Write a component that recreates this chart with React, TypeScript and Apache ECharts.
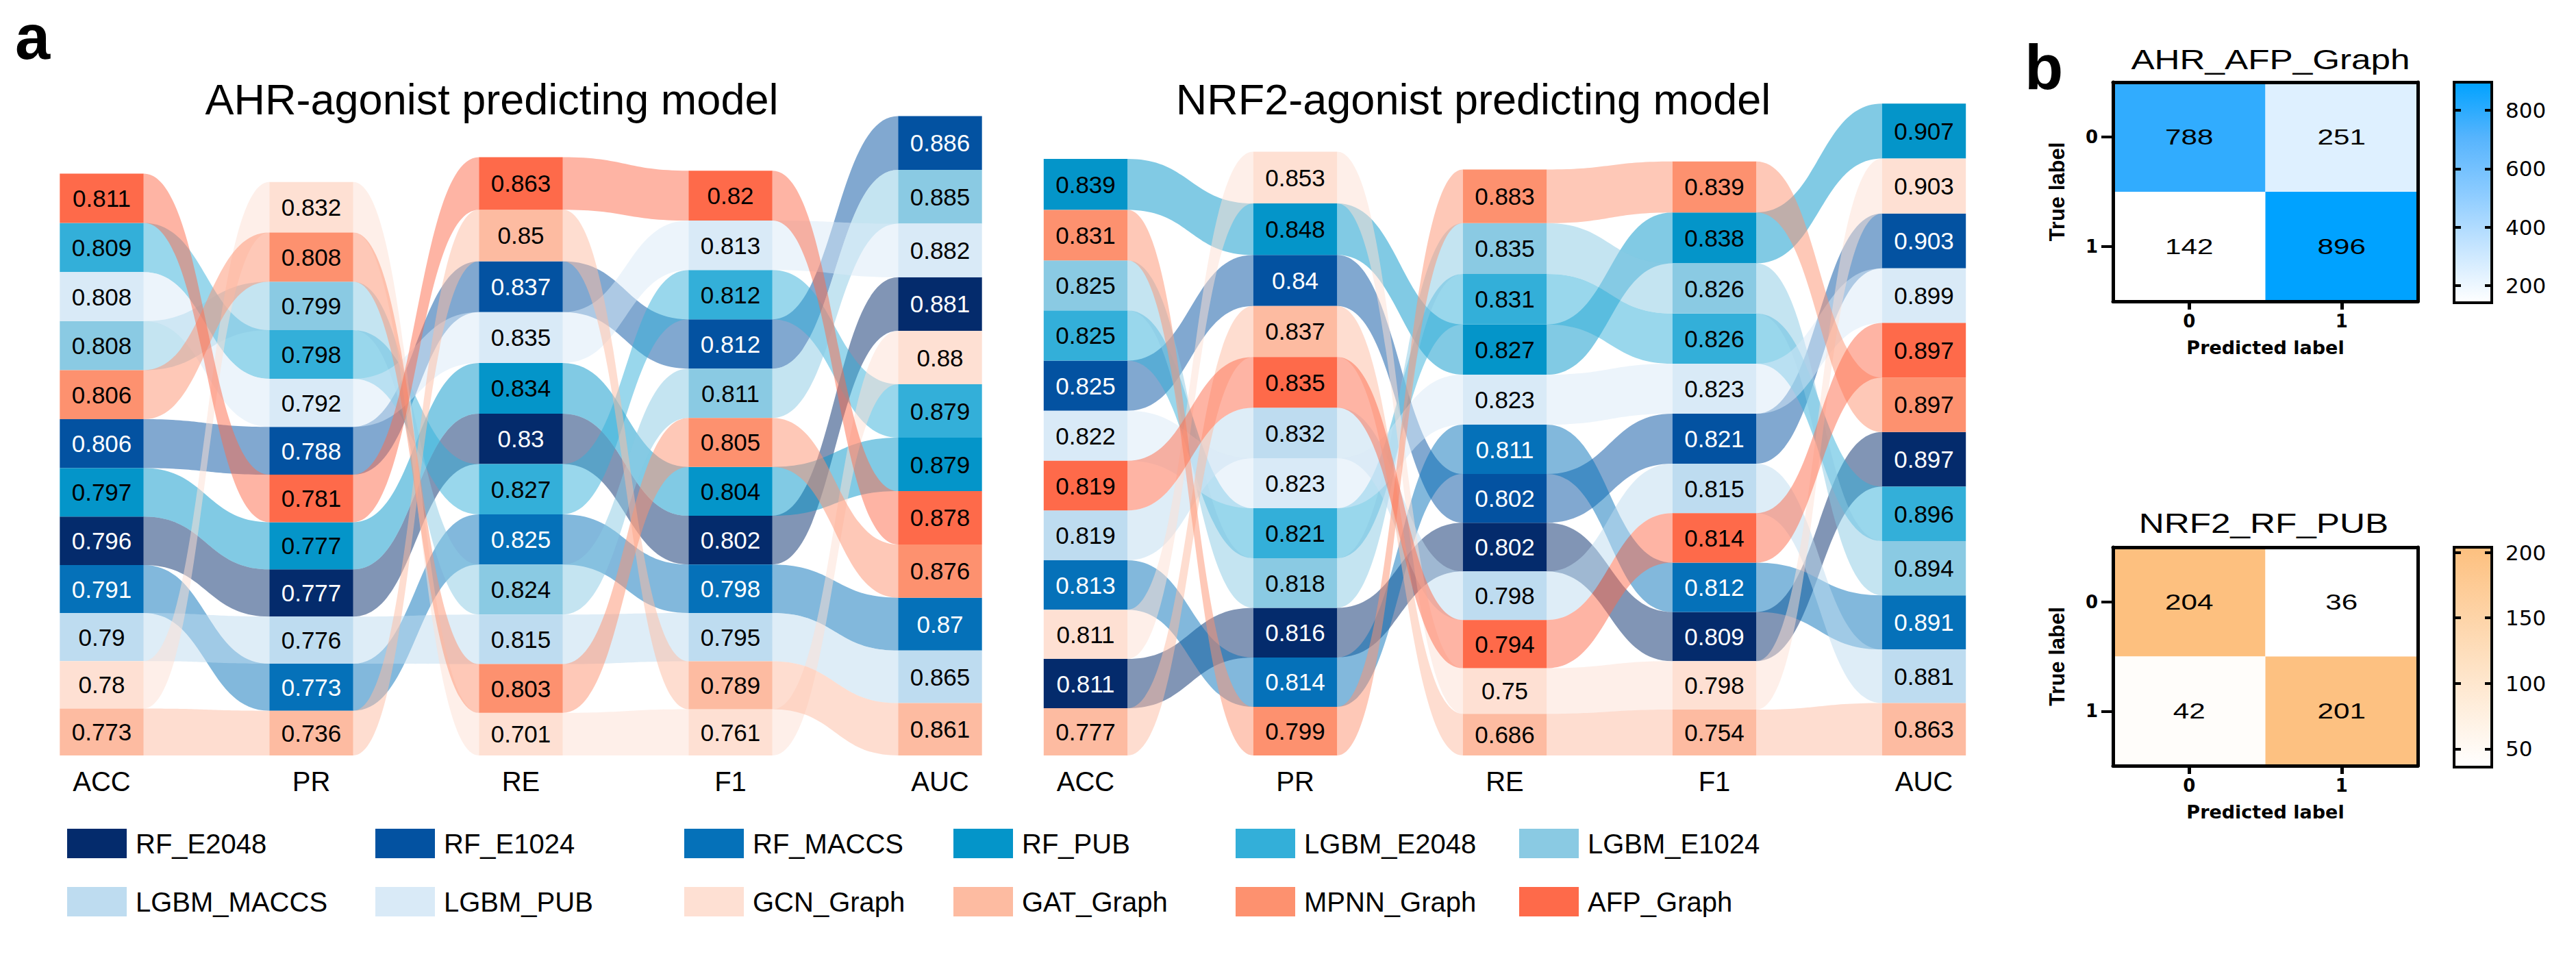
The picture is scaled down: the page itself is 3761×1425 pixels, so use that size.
import React, { useEffect, useRef } from 'react';
import * as echarts from 'echarts';

// ---------------- data ----------------
const MODELS = ['RF_E2048', 'RF_E1024', 'RF_MACCS', 'RF_PUB', 'LGBM_E2048', 'LGBM_E1024', 'LGBM_MACCS', 'LGBM_PUB', 'GCN_Graph', 'GAT_Graph', 'MPNN_Graph', 'AFP_Graph'];
const MODEL_COLORS = ['#042b6c', '#0352a1', '#0571b9', '#0495c9', '#33afd9', '#8acae3', '#bedcf0', '#d9eaf7', '#fee0d3', '#fdbba1', '#fd916f', '#fe6a4a'];
const WHITE_TEXT_MODELS = ['RF_E2048', 'RF_E1024', 'RF_MACCS'];
const METRICS = ['ACC', 'PR', 'RE', 'F1', 'AUC'];

// values listed in MODELS order
const AHR_ACC = [0.796, 0.806, 0.791, 0.797, 0.809, 0.808, 0.79, 0.808, 0.78, 0.773, 0.806, 0.811];
const AHR_PR = [0.777, 0.788, 0.773, 0.777, 0.798, 0.799, 0.776, 0.792, 0.832, 0.736, 0.808, 0.781];
const AHR_RE = [0.83, 0.837, 0.825, 0.834, 0.827, 0.824, 0.815, 0.835, 0.701, 0.85, 0.803, 0.863];
const AHR_F1 = [0.802, 0.812, 0.798, 0.804, 0.812, 0.811, 0.795, 0.813, 0.761, 0.789, 0.805, 0.82];
const AHR_AUC = [0.881, 0.886, 0.87, 0.879, 0.879, 0.885, 0.865, 0.882, 0.88, 0.861, 0.876, 0.878];

const NRF2_ACC = [0.811, 0.825, 0.813, 0.839, 0.825, 0.825, 0.819, 0.822, 0.811, 0.777, 0.831, 0.819];
const NRF2_PR = [0.816, 0.84, 0.814, 0.848, 0.821, 0.818, 0.832, 0.823, 0.853, 0.837, 0.799, 0.835];
const NRF2_RE = [0.802, 0.802, 0.811, 0.827, 0.831, 0.835, 0.798, 0.823, 0.75, 0.686, 0.883, 0.794];
const NRF2_F1 = [0.809, 0.821, 0.812, 0.838, 0.826, 0.826, 0.815, 0.823, 0.798, 0.754, 0.839, 0.814];
const NRF2_AUC = [0.897, 0.903, 0.891, 0.907, 0.896, 0.894, 0.881, 0.899, 0.903, 0.863, 0.897, 0.897];

const PANEL_TITLES = ['AHR-agonist predicting model', 'NRF2-agonist predicting model'];

const CM_CLASSES = ['0', '1'];
const AHR_CM_TITLE = 'AHR_AFP_Graph';
const AHR_CM = [[788, 251], [142, 896]];
const AHR_CM_TICKS = [200, 400, 600, 800];
const AHR_CM_COLORS = ['#ffffff', '#c6e5ff', '#8bcbff', '#56b4fd', '#00a2ff'];
const NRF2_CM_TITLE = 'NRF2_RF_PUB';
const NRF2_CM = [[204, 36], [42, 201]];
const NRF2_CM_TICKS = [50, 100, 150, 200];
const NRF2_CM_COLORS = ['#ffffff', '#fdc07f'];

// ---------------- style / layout ----------------
const FONT = "'Liberation Sans', Arial, Helvetica, sans-serif";
const WIDE = "'DejaVu Sans', sans-serif";
const CELL_HALF = 0.2;
const RIBBON_OPACITY = 0.5;
const LEGEND_LEFTS = [98, 548, 999, 1392, 1804, 2218];

function layoutColumns(cols: number[][]) {
  return cols.map((col) => {
    const order = MODELS.map((_, m) => m).sort((a, b) => (col[b] - col[a]) || (b - a));
    const res: { bot: number; top: number }[] = new Array(MODELS.length);
    let acc = 0;
    for (let i = order.length - 1; i >= 0; i--) {
      const m = order[i];
      res[m] = { bot: acc, top: acc + col[m] };
      acc += col[m];
    }
    return res;
  });
}

function ribbonRenderer(color: string) {
  return (params: any, api: any) => {
    const k = api.value(0);
    const a1 = api.coord([k + CELL_HALF, api.value(1)]);
    const a2 = api.coord([k + CELL_HALF, api.value(2)]);
    const b1 = api.coord([k + 1 - CELL_HALF, api.value(3)]);
    const b2 = api.coord([k + 1 - CELL_HALF, api.value(4)]);
    const xm = (a1[0] + b1[0]) / 2;
    const d = `M${a1[0]},${a1[1]} C${xm},${a1[1]} ${xm},${b1[1]} ${b1[0]},${b1[1]} L${b2[0]},${b2[1]} C${xm},${b2[1]} ${xm},${a2[1]} ${a2[0]},${a2[1]} Z`;
    return { type: 'path', shape: { pathData: d }, style: { fill: color, opacity: RIBBON_OPACITY } };
  };
}

function cellRenderer(params: any, api: any) {
  const k = api.value(0);
  const p1 = api.coord([k - CELL_HALF, api.value(2)]);
  const p2 = api.coord([k + CELL_HALF, api.value(1)]);
  const m = api.value(4);
  const val = api.value(3);
  const white = WHITE_TEXT_MODELS.indexOf(MODELS[m]) >= 0;
  return {
    type: 'group',
    children: [
      { type: 'rect', shape: { x: p1[0], y: p1[1], width: p2[0] - p1[0], height: p2[1] - p1[1] }, style: { fill: MODEL_COLORS[m] } },
      {
        type: 'text', x: (p1[0] + p2[0]) / 2, y: (p1[1] + p2[1]) / 2,
        style: { text: String(val), fill: white ? '#ffffff' : '#000000', font: `35px ${FONT}`, align: 'center', verticalAlign: 'middle' },
      },
    ],
  };
}

function cmRenderer(params: any, api: any) {
  const c = api.coord([api.value(0), api.value(1)]);
  const s = api.size([1, 1]);
  return {
    type: 'group',
    children: [
      { type: 'rect', shape: { x: c[0] - s[0] / 2, y: c[1] - s[1] / 2, width: s[0], height: s[1] }, style: { fill: api.visual('color') } },
      { type: 'text', x: c[0], y: c[1], scaleX: 1.32, style: { text: String(api.value(2)), fill: '#000', font: `32px ${FONT}`, align: 'center', verticalAlign: 'middle' } },
    ],
  };
}

function colorbarRenderer(colors: string[]) {
  return (params: any, api: any) => {
    const p1 = api.coord([0, api.value(2)]);
    const p2 = api.coord([1, api.value(1)]);
    return {
      type: 'rect',
      shape: { x: p1[0], y: p1[1], width: p2[0] - p1[0], height: p2[1] - p1[1] },
      style: {
        fill: new echarts.graphic.LinearGradient(0, 1, 0, 0, colors.map((c, i) => ({ offset: i / (colors.length - 1), color: c }))),
        stroke: '#000', lineWidth: 4,
      },
    };
  };
}

function buildOption() {
  const panelCols = [
    [AHR_ACC, AHR_PR, AHR_RE, AHR_F1, AHR_AUC],
    [NRF2_ACC, NRF2_PR, NRF2_RE, NRF2_F1, NRF2_AUC],
  ];
  const panelLefts = [10.8, 1447.3];

  const grid: any[] = [];
  const xAxis: any[] = [];
  const yAxis: any[] = [];
  const series: any[] = [];

  // alluvial grids 0,1
  panelCols.forEach((cols, pi) => {
    grid.push({ left: panelLefts[pi], top: 127, width: 1499.4, height: 976 });
    xAxis.push({
      gridIndex: pi, type: 'value', min: -0.45, max: 4.45,
      axisLine: { show: false }, axisTick: { show: false }, splitLine: { show: false },
      axisLabel: { customValues: [0, 1, 2, 3, 4], formatter: (v: number) => METRICS[Math.round(v)], fontSize: 40, fontFamily: FONT, color: '#000', margin: 18 },
    });
    yAxis.push({ gridIndex: pi, type: 'value', min: 0, max: 11, show: false, splitLine: { show: false } });
  });

  // ribbons
  const layouts = panelCols.map((cols) => layoutColumns(cols));
  layouts.forEach((pos, pi) => {
    MODELS.forEach((name, m) => {
      const data: number[][] = [];
      for (let k = 0; k < METRICS.length - 1; k++) {
        data.push([k, pos[k][m].top, pos[k][m].bot, pos[k + 1][m].top, pos[k + 1][m].bot]);
      }
      series.push({
        type: 'custom', name, xAxisIndex: pi, yAxisIndex: pi, z: 2,
        itemStyle: { color: MODEL_COLORS[m] },
        renderItem: ribbonRenderer(MODEL_COLORS[m]), data,
      });
    });
  });
  // cells
  layouts.forEach((pos, pi) => {
    const data: number[][] = [];
    pos.forEach((col, k) => {
      MODELS.forEach((_, m) => {
        data.push([k, col[m].bot, col[m].top, panelCols[pi][k][m], m]);
      });
    });
    series.push({ type: 'custom', name: 'cells' + pi, xAxisIndex: pi, yAxisIndex: pi, z: 3, renderItem: cellRenderer, data });
  });

  // confusion matrices: grids 2,3 ; colorbars grids 4,5
  const cms: any[] = [
    { title: AHR_CM_TITLE, cm: AHR_CM, ticks: AHR_CM_TICKS, colors: AHR_CM_COLORS, top: 120, height: 320 },
    { title: NRF2_CM_TITLE, cm: NRF2_CM, ticks: NRF2_CM_TICKS, colors: NRF2_CM_COLORS, top: 799, height: 319 },
  ];
  const visualMap: any[] = [];
  cms.forEach((c) => {
    const gi = grid.length;
    grid.push({ left: 3085, top: c.top, width: 445, height: c.height });
    const lineStyle = { color: '#000', width: 5 };
    const xb = xAxis.length;
    xAxis.push({
      gridIndex: gi, type: 'category', data: CM_CLASSES, position: 'bottom', z: 10,
      axisLine: { show: true, lineStyle }, axisTick: { show: true, alignWithLabel: true, length: 12, lineStyle: { color: '#000', width: 5 } },
      axisLabel: { fontFamily: WIDE, fontWeight: 'bold', fontSize: 26, color: '#000', margin: 16 },
      name: 'Predicted label', nameLocation: 'middle', nameGap: 54,
      nameTextStyle: { fontFamily: WIDE, fontWeight: 'bold', fontSize: 27, color: '#000' },
      splitLine: { show: false },
    });
    xAxis.push({ gridIndex: gi, type: 'category', data: CM_CLASSES, position: 'top', z: 10, axisLine: { show: true, lineStyle }, axisTick: { show: false }, axisLabel: { show: false } });
    const yl = yAxis.length;
    yAxis.push({
      gridIndex: gi, type: 'category', data: CM_CLASSES, inverse: true, position: 'left', z: 10,
      axisLine: { show: true, lineStyle }, axisTick: { show: true, alignWithLabel: true, length: 17, lineStyle: { color: '#000', width: 4 } },
      axisLabel: { fontFamily: WIDE, fontWeight: 'bold', fontSize: 26, color: '#000', margin: 22 },
      name: 'True label', nameLocation: 'middle', nameGap: 66, nameRotate: 90,
      nameTextStyle: { fontFamily: FONT, fontWeight: 'bold', fontSize: 31, color: '#000' },
      splitLine: { show: false },
    });
    yAxis.push({ gridIndex: gi, type: 'category', data: CM_CLASSES, inverse: true, position: 'right', z: 10, axisLine: { show: true, lineStyle }, axisTick: { show: false }, axisLabel: { show: false } });

    const data: number[][] = [];
    c.cm.forEach((row: number[], r: number) => row.forEach((v, col) => data.push([col, r, v])));
    const flat = c.cm.flat();
    c.vmin = Math.min(...flat);
    c.vmax = Math.max(...flat);
    visualMap.push({ type: 'continuous', show: false, seriesIndex: series.length, dimension: 2, min: c.vmin, max: c.vmax, inRange: { color: c.colors } });
    series.push({ type: 'custom', name: c.title, xAxisIndex: xb, yAxisIndex: yl, z: 3, renderItem: cmRenderer, data });
  });

  cms.forEach((c) => {
    const gi = grid.length;
    grid.push({ left: 3583, top: c.top, width: 55, height: c.height + 2 });
    const xi = xAxis.length;
    xAxis.push({ gridIndex: gi, type: 'value', min: 0, max: 1, show: false, splitLine: { show: false } });
    yAxis.push({
      gridIndex: gi, type: 'value', min: c.vmin, max: c.vmax, position: 'left', z: 10,
      axisLine: { show: false }, splitLine: { show: false },
      axisTick: { show: true, inside: true, length: 10, customValues: c.ticks, lineStyle: { color: '#000', width: 4 } },
      axisLabel: { show: false },
    });
    const yr = yAxis.length;
    yAxis.push({
      gridIndex: gi, type: 'value', min: c.vmin, max: c.vmax, position: 'right', z: 10,
      axisLine: { show: false }, splitLine: { show: false },
      axisTick: { show: true, inside: true, length: 10, customValues: c.ticks, lineStyle: { color: '#000', width: 4 } },
      axisLabel: { show: true, customValues: c.ticks, fontFamily: WIDE, fontSize: 31, color: '#000', margin: 20 },
    });
    series.push({ type: 'custom', name: c.title + ' scale', xAxisIndex: xi, yAxisIndex: yr, z: 3, renderItem: colorbarRenderer(c.colors), data: [[0, c.vmin, c.vmax]] });
  });

  const legend = LEGEND_LEFTS.map((left, i) => ({
    orient: 'vertical', left, top: 1210, padding: 0,
    itemWidth: 87, itemHeight: 43, itemGap: 42, icon: 'rect', selectedMode: false,
    data: [MODELS[i], MODELS[i + 6]],
    textStyle: { fontSize: 40, fontFamily: FONT, color: '#000', lineHeight: 43, padding: [0, 0, 0, 8] },
  }));

  const graphic = [
    { type: 'text', x: 22, y: 54, style: { text: 'a', font: `bold 92px ${FONT}`, fill: '#000', align: 'left', verticalAlign: 'middle' } },
    { type: 'text', x: 2956, y: 98, style: { text: 'b', font: `bold 92px ${FONT}`, fill: '#000', align: 'left', verticalAlign: 'middle' } },
    { type: 'text', x: 718, y: 145, style: { text: PANEL_TITLES[0], font: `63px ${FONT}`, fill: '#000', align: 'center', verticalAlign: 'middle' } },
    { type: 'text', x: 2151, y: 145, style: { text: PANEL_TITLES[1], font: `63px ${FONT}`, fill: '#000', align: 'center', verticalAlign: 'middle' } },
    { type: 'text', x: 3315, y: 87, scaleX: 1.25, style: { text: AHR_CM_TITLE, font: `41px ${FONT}`, fill: '#000', align: 'center', verticalAlign: 'middle' } },
    { type: 'text', x: 3305, y: 764, scaleX: 1.25, style: { text: NRF2_CM_TITLE, font: `41px ${FONT}`, fill: '#000', align: 'center', verticalAlign: 'middle' } },
  ];

  return {
    animation: false,
    backgroundColor: '#ffffff',
    textStyle: { fontFamily: FONT },
    grid, xAxis, yAxis, series, legend, visualMap, graphic,
  };
}

export default function App() {
  const ref = useRef<HTMLDivElement>(null);
  useEffect(() => {
    const chart = echarts.init(ref.current as HTMLDivElement, null, { renderer: 'svg' });
    chart.setOption(buildOption() as any);
    return () => chart.dispose();
  }, []);
  return <div ref={ref} style={{ position: 'fixed', left: 0, top: 0, width: 3761, height: 1425, background: '#fff' }} />;
}
